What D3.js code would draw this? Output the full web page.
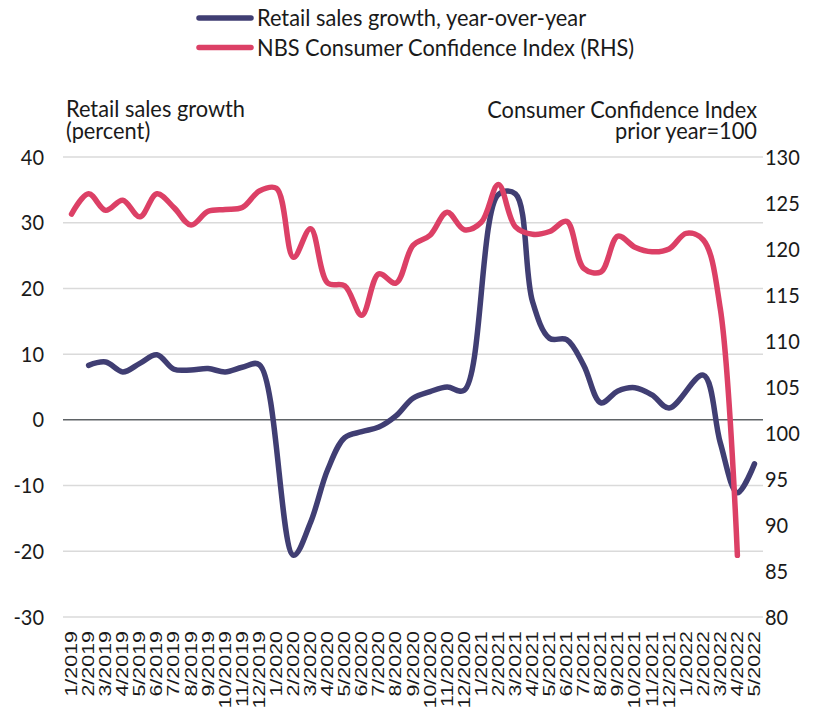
<!DOCTYPE html>
<html>
<head>
<meta charset="utf-8">
<script src="https://cdn.jsdelivr.net/npm/d3@7"></script>
<style>
  body { margin: 0; background: #fff; }
  svg { display: block; }
</style>
</head>
<body>
<svg id="chart" width="819" height="709"></svg>
<script>
// Monthly categories, January 2019 to May 2022
const months = [
  "1/2019","2/2019","3/2019","4/2019","5/2019","6/2019","7/2019","8/2019","9/2019","10/2019","11/2019","12/2019",
  "1/2020","2/2020","3/2020","4/2020","5/2020","6/2020","7/2020","8/2020","9/2020","10/2020","11/2020","12/2020",
  "1/2021","2/2021","3/2021","4/2021","5/2021","6/2021","7/2021","8/2021","9/2021","10/2021","11/2021","12/2021",
  "1/2022","2/2022","3/2022","4/2022","5/2022"
];

// Retail sales growth, y/y percent (January folded into the February reading)
const retailGrowth = [
  null, 8.3, 8.8, 7.3, 8.6, 9.9, 7.7, 7.6, 7.8, 7.3, 8.0, 8.4,
  null, -20.6, -15.6, -7.6, -2.7, -1.8, -1.1, 0.6, 3.3, 4.3, 5.0, 4.5,
  null, 34.3, 34.4, 18.0, 12.4, 12.2, 8.3, 2.6, 4.4, 4.9, 3.8, 1.8,
  null, 6.8, -3.5, -11.1, -6.7
];

// NBS consumer confidence index (prior year = 100)
const confidence = [
  123.8, 126.0, 124.2, 125.3, 123.5, 126.0, 124.5, 122.6, 124.1, 124.3, 124.5, 126.3,
  126.6, 119.1, 122.2, 116.3, 116.0, 112.8, 117.3, 116.3, 120.4, 121.5, 124.0, 122.1,
  122.9, 127.0, 122.4, 121.6, 121.9, 123.0, 117.9, 117.5, 121.4, 120.2, 119.7, 120.0,
  121.7, 121.0, 113.5, 86.7, null
];

const leftTicks = [-30, -20, -10, 0, 10, 20, 30, 40];
const rightTicks = [80, 85, 90, 95, 100, 105, 110, 115, 120, 125, 130];
const seriesNames = ["Retail sales growth, year-over-year", "NBS Consumer Confidence Index (RHS)"];
const leftTitle = ["Retail sales growth", "(percent)"];
const rightTitle = ["Consumer Confidence Index", "prior year=100"];

const colors = { retail: "#403e73", confidence: "#dc4066" };
const textColor = "#1a1a1a";
const font = "Lato, 'Open Sans', sans-serif";
const SY = 1.06;   // slightly tall lettering

const svg = d3.select("#chart");
const plot = { left: 63, right: 763, top: 157, bottom: 617 };

const x = d3.scalePoint().domain(months).range([plot.left, plot.right]).padding(0.5);
const yL = d3.scaleLinear().domain([-30, 40]).range([plot.bottom, plot.top]);
const yR = d3.scaleLinear().domain([80, 130]).range([plot.bottom, plot.top]);

// horizontal gridlines on the left-axis ticks
svg.append("g").selectAll("line")
  .data(leftTicks)
  .join("line")
  .attr("x1", plot.left).attr("x2", plot.right)
  .attr("y1", d => yL(d)).attr("y2", d => yL(d))
  .attr("stroke", d => d === 0 ? "#5f6366" : "#dadada")
  .attr("stroke-width", 1.5);

// helper: slightly stretched text
function label(g, txt, tx, ty, anchor, size, fam) {
  return g.append("text")
    .attr("transform", `translate(${tx},${ty}) scale(1,${SY})`)
    .attr("text-anchor", anchor)
    .attr("font-family", fam || font)
    .attr("font-size", size)
    .attr("fill", textColor)
    .text(txt);
}

// left axis labels
const gl = svg.append("g");
leftTicks.forEach(v => {
  label(gl, String(v), 44, yL(v) + 7.5, "end", 20);
});
// right axis labels
const gr = svg.append("g");
rightTicks.forEach(v => {
  label(gr, String(v), 765, yR(v) + 7.5, "start", 20);
});

// axis titles
const gt = svg.append("g");
label(gt, leftTitle[0], 66, 116.5, "start", 21.8);
label(gt, leftTitle[1], 66, 139, "start", 21.8);
label(gt, rightTitle[0], 757, 117.5, "end", 21.8);
label(gt, rightTitle[1], 757, 139, "end", 21.8);

// x-axis month labels, rotated
svg.append("g").selectAll("text")
  .data(months)
  .join("text")
  .attr("transform", d => `translate(${x(d) + 5.5},631) rotate(-90) scale(1.24,1)`)
  .attr("text-anchor", "end")
  .attr("font-family", "'Liberation Sans', Arial, sans-serif")
  .attr("font-size", 17.3)
  .attr("fill", textColor)
  .text(d => d);

// series lines, smoothed
const lineL = d3.line()
  .x(d => x(d.m)).y(d => yL(d.v))
  .curve(d3.curveCatmullRom.alpha(0.5));
const lineR = d3.line()
  .x(d => x(d.m)).y(d => yR(d.v))
  .curve(d3.curveCatmullRom.alpha(0.5));

// missing months are bridged, not broken
const retailPts = months.map((m, i) => ({ m, v: retailGrowth[i] })).filter(d => d.v !== null);
const confPts = months.map((m, i) => ({ m, v: confidence[i] })).filter(d => d.v !== null);

svg.append("path")
  .attr("d", lineL(retailPts))
  .attr("fill", "none")
  .attr("stroke", colors.retail)
  .attr("stroke-width", 5.5)
  .attr("stroke-linecap", "round")
  .attr("stroke-linejoin", "round");

svg.append("path")
  .attr("d", lineR(confPts))
  .attr("fill", "none")
  .attr("stroke", colors.confidence)
  .attr("stroke-width", 5.5)
  .attr("stroke-linecap", "round")
  .attr("stroke-linejoin", "round");

// legend
const leg = svg.append("g");
[colors.retail, colors.confidence].forEach((c, i) => {
  const yy = 18 + i * 29.5;
  leg.append("line")
    .attr("x1", 199).attr("x2", 251)
    .attr("y1", yy).attr("y2", yy)
    .attr("stroke", c).attr("stroke-width", 5.5)
    .attr("stroke-linecap", "round");
  label(leg, seriesNames[i], 257, yy + 8.2, "start", 21.8);
});
</script>
</body>
</html>
